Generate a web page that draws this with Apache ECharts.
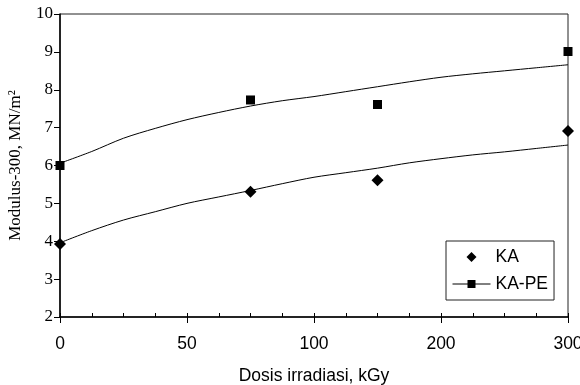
<!DOCTYPE html>
<html>
<head>
<meta charset="utf-8">
<script src="https://cdn.jsdelivr.net/npm/echarts@6/dist/echarts.min.js"></script>
<style>
html, body { margin: 0; padding: 0; background: #fff; }
#chart { width: 580px; height: 385px; }
</style>
</head>
<body>
<div id="chart"></div>
<script>
// Tick labels on the x axis (equally spaced on the original chart)
const xTickLabels = [0, 50, 100, 200, 300];
// Measured points
const doses = [0, 75, 150, 300];
const ka = [3.93, 5.31, 5.61, 6.91];
const kaPe = [6.00, 7.73, 7.61, 9.01];
// Trend curves
const trendDoses = [0, 12.5, 25, 37.5, 50, 62.5, 75, 87.5, 100, 125, 150, 175, 200, 225, 250, 275, 300];
const kaTrend = [3.96, 4.28, 4.56, 4.78, 5.00, 5.17, 5.34, 5.52, 5.69, 5.81, 5.93, 6.07, 6.18, 6.28, 6.36, 6.45, 6.54];
const kaPeTrend = [6.06, 6.37, 6.72, 6.98, 7.21, 7.40, 7.57, 7.71, 7.82, 7.95, 8.08, 8.21, 8.33, 8.42, 8.50, 8.58, 8.66];
const yTicks = { min: 2, max: 10, interval: 1 };

// piecewise mapping of dose onto the equally spaced tick positions
function toPos(d) {
  for (let i = 0; i < xTickLabels.length - 1; i++) {
    const a = xTickLabels[i], b = xTickLabels[i + 1];
    if (d <= b) return i + (d - a) / (b - a);
  }
  return xTickLabels.length - 1;
}
const pairs = (xs, ys) => xs.map((x, i) => [toPos(x), ys[i]]);

const serif = 'Liberation Serif';
const sans = 'Liberation Sans';
const diamondPath = 'path://M5 0L10 5L5 10L0 5Z';
const chart = echarts.init(document.getElementById('chart'), null, { renderer: 'canvas' });
chart.setOption({
  animation: false,
  backgroundColor: '#fff',
  grid: { left: 60, right: 12, top: 14, bottom: 68, show: true, borderColor: '#222', borderWidth: 1,
    containLabel: false, outerBoundsMode: 'none' },
  legend: {
    data: [{ name: 'KA', icon: diamondPath }, { name: 'KA-PE' }],
    orient: 'vertical',
    left: 446, top: 241,
    width: 106,
    padding: [7, 6, 7, 6],
    itemGap: 9,
    itemWidth: 38, itemHeight: 10,
    borderColor: '#222', borderWidth: 1,
    backgroundColor: '#fff',
    selectedMode: false,
    textStyle: { fontFamily: sans, fontSize: 17.5, color: '#000' },
    lineStyle: { opacity: 1, color: '#000', width: 1 }
  },
  xAxis: [{
    type: 'value', min: 0, max: xTickLabels.length - 1, interval: 1,
    name: 'Dosis irradiasi, kGy', nameLocation: 'middle', nameGap: 50,
    nameTextStyle: { fontFamily: sans, fontSize: 17.5, color: '#000' },
    axisLine: { show: true, lineStyle: { color: '#000', width: 1.5 } },
    axisTick: { show: true, inside: false, length: 6, lineStyle: { color: '#000', width: 1 } },
    axisLabel: { margin: 18, fontFamily: sans, fontSize: 17.5, color: '#000',
      formatter: v => String(xTickLabels[Math.round(v)]) },
    splitLine: { show: false }
  }, {
    type: 'value', min: 0, max: xTickLabels.length - 1, interval: 0.25, position: 'bottom',
    axisLine: { show: false },
    axisTick: { show: true, inside: true, length: 4, lineStyle: { color: '#000', width: 1 } },
    axisLabel: { show: false },
    splitLine: { show: false }
  }],
  yAxis: {
    type: 'value', min: yTicks.min, max: yTicks.max, interval: yTicks.interval,
    name: 'Modulus-300, MN/m²', nameLocation: 'middle', nameGap: 36,
    nameTextStyle: { fontFamily: serif, fontSize: 17, color: '#000' },
    axisLine: { show: true, lineStyle: { color: '#000', width: 1.5 } },
    axisTick: { show: true, inside: false, length: 6, lineStyle: { color: '#000', width: 1 } },
    axisLabel: { margin: 7, fontFamily: serif, fontSize: 17, color: '#000' },
    splitLine: { show: false }
  },
  series: [{
    name: 'KA-trend', type: 'line', data: pairs(trendDoses, kaTrend), smooth: 0.3,
    showSymbol: false, symbol: 'none', lineStyle: { color: '#000', width: 1 }, z: 2, silent: true
  }, {
    name: 'KA-PE-trend', type: 'line', data: pairs(trendDoses, kaPeTrend), smooth: 0.3,
    showSymbol: false, symbol: 'none', lineStyle: { color: '#000', width: 1 }, z: 2, silent: true
  }, {
    name: 'KA', type: 'scatter', data: pairs(doses, ka), symbol: 'diamond', symbolSize: 12,
    symbolKeepAspect: true,
    itemStyle: { color: '#000', opacity: 1 }, clip: false, z: 3
  }, {
    name: 'KA-PE', type: 'line', data: pairs(doses, kaPe), symbol: 'rect', symbolSize: 9,
    showSymbol: true, showAllSymbol: true, itemStyle: { color: '#000', opacity: 1 },
    lineStyle: { opacity: 0, color: '#000', width: 1 }, clip: false, z: 3
  }]
});
</script>
</body>
</html>
